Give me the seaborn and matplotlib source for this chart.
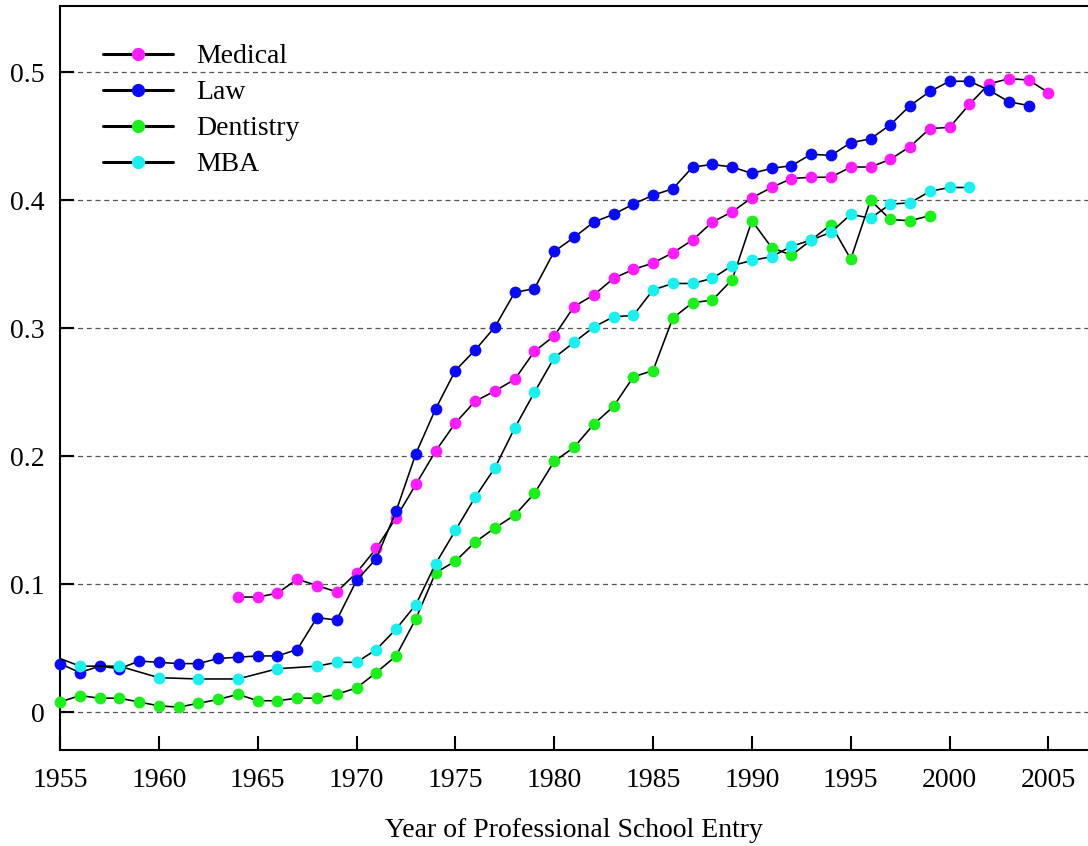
import matplotlib
matplotlib.use("Agg")
import matplotlib.pyplot as plt
import seaborn as sns
import pandas as pd
from matplotlib.lines import Line2D

# ---------------- data ----------------
medical_years = list(range(1964, 2006))
medical_share = [0.090, 0.090, 0.093, 0.104, 0.099, 0.094,
                 0.109, 0.128, 0.152, 0.178, 0.204, 0.226, 0.243, 0.251, 0.260, 0.282,
                 0.294, 0.317, 0.326, 0.339, 0.346, 0.351, 0.359, 0.369, 0.383, 0.391,
                 0.402, 0.410, 0.417, 0.418, 0.418, 0.426, 0.426, 0.432, 0.442, 0.456,
                 0.457, 0.475, 0.491, 0.495, 0.494, 0.484]

law_years = list(range(1955, 2005))
law_share = [0.038, 0.031, 0.036, 0.034, 0.040, 0.039, 0.038, 0.038, 0.042, 0.043,
             0.044, 0.044, 0.049, 0.074, 0.072, 0.103, 0.120, 0.157, 0.202, 0.237,
             0.267, 0.283, 0.301, 0.328, 0.331, 0.360, 0.371, 0.383, 0.389, 0.397,
             0.404, 0.409, 0.426, 0.428, 0.426, 0.421, 0.425, 0.427, 0.436, 0.435,
             0.445, 0.448, 0.459, 0.474, 0.485, 0.493, 0.493, 0.486, 0.477, 0.474]

dentistry_years = list(range(1955, 2000))
dentistry_share = [0.008, 0.013, 0.011, 0.011, 0.008, 0.005, 0.004, 0.007, 0.010, 0.014,
                   0.009, 0.009, 0.011, 0.011, 0.014, 0.019, 0.031, 0.044, 0.073, 0.109,
                   0.118, 0.133, 0.144, 0.154, 0.171, 0.196, 0.207, 0.225, 0.239, 0.262,
                   0.267, 0.308, 0.320, 0.322, 0.338, 0.384, 0.363, 0.357, 0.369, 0.381,
                   0.354, 0.400, 0.385, 0.384, 0.388]

mba_years = [1954, 1956, 1958, 1960, 1962, 1964, 1966, 1968, 1969] + list(range(1970, 2002))
mba_share = [0.048, 0.036, 0.036, 0.027, 0.026, 0.026, 0.034, 0.036, 0.039,
             0.039, 0.049, 0.065, 0.084, 0.116, 0.142, 0.168, 0.191, 0.222, 0.250,
             0.277, 0.289, 0.301, 0.309, 0.310, 0.330, 0.335, 0.335, 0.339, 0.349,
             0.353, 0.356, 0.364, 0.369, 0.375, 0.389, 0.386, 0.397, 0.398, 0.407,
             0.410, 0.410]

series_names = ["Medical", "Law", "Dentistry", "MBA"]
series_colors = ["#ff1aff", "#0a0afa", "#1af01a", "#1af0f0"]
x_ticks = list(range(1955, 2010, 5))
y_ticks = [0, 0.1, 0.2, 0.3, 0.4, 0.5]
x_label = "Year of Professional School Entry"

# ---------------- style ----------------
sns.set_theme(style="ticks")
plt.rcParams["font.family"] = ["Liberation Serif", "DejaVu Serif"]
plt.rcParams["text.color"] = "black"
plt.rcParams["axes.labelcolor"] = "black"

fig = plt.figure(figsize=(10.88, 8.46), dpi=100)
ax = fig.add_axes([60 / 1088, 1 - 750 / 846, 1028 / 1088, 744 / 846])

all_years = [medical_years, law_years, dentistry_years, mba_years]
all_share = [medical_share, law_share, dentistry_share, mba_share]
x_min, x_max = 1955, 2007

for i, (name, yrs, vals, col) in enumerate(zip(series_names, all_years, all_share, series_colors)):
    df = pd.DataFrame({"year": yrs, "share": vals})
    sns.lineplot(data=df, x="year", y="share", color="black", linewidth=1.15,
                 estimator=None, ax=ax, zorder=3 + 2 * i)
    vis = df[(df["year"] >= x_min) & (df["year"] <= x_max)]
    sns.scatterplot(data=vis, x="year", y="share", color=col, s=72, linewidth=0,
                    clip_on=False, zorder=4 + 2 * i, ax=ax, legend=False)

ax.set_xlim(x_min, x_max)
ax.set_ylim(-0.0295, 0.5518)
ax.set_xticks(x_ticks)
ax.set_yticks(y_ticks)
ax.set_yticklabels([f"{v:g}" for v in y_ticks])
ax.set_xlabel(x_label, fontsize=20, labelpad=18, color="black")
ax.set_ylabel("")

for side in ["left", "bottom", "top"]:
    ax.spines[side].set_visible(True)
    ax.spines[side].set_color("black")
    ax.spines[side].set_linewidth(1.5)
ax.spines["right"].set_visible(False)

ax.tick_params(axis="both", which="major", bottom=True, left=True, top=False, right=False,
               direction="in", length=10, width=1.5, color="black",
               labelcolor="black", labelsize=20)
ax.tick_params(axis="y", pad=11)
ax.tick_params(axis="x", pad=13)

ax.yaxis.grid(True, color="#555555", linestyle=(0, (4, 3)), linewidth=0.9)
ax.xaxis.grid(False)

handles = [Line2D([0], [0], color="black", linewidth=2.2, marker="o", markersize=8.5,
                  markerfacecolor=c, markeredgecolor=c) for c in series_colors]
ax.legend(handles, series_names, loc="upper left", bbox_to_anchor=(0.042, 0.949),
          frameon=False, fontsize=20, borderaxespad=0, borderpad=0,
          handlelength=2.5, handletextpad=0.85, labelspacing=0.38, numpoints=1)

fig.savefig("out.png", dpi=100)
